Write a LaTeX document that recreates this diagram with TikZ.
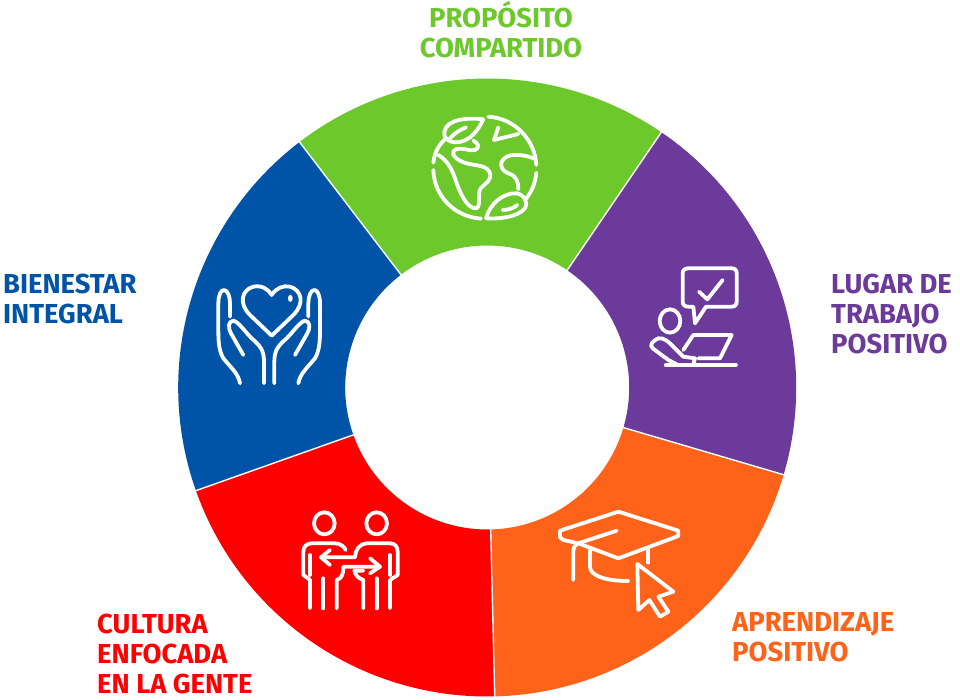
\documentclass[tikz,border=0pt]{standalone}
\usepackage{fontspec}
\setmainfont{Fira Sans}
\definecolor{cgreen}{HTML}{6DC92B}
\definecolor{cpurple}{HTML}{6B3A9A}
\definecolor{corange}{HTML}{FF6319}
\definecolor{cred}{HTML}{FF0000}
\definecolor{cblue}{HTML}{0054A8}
\tikzset{
  ico/.style={draw=white,line width=3.8pt,line cap=round,line join=round,fill=none},
  zoomed/.style={x=0.3333pt,y=-0.3333pt},
  lab/.style={inner sep=0pt,font=\fontsize{27.4}{30}\selectfont\bfseries}
}
\newcommand{\sect}[3]{\fill[#3] (#1:309) arc[start angle=#1,end angle=#2,radius=309] -- (#2:142) arc[start angle=#2,end angle=#1,radius=142] -- cycle;}
\begin{document}
\begin{tikzpicture}[x=1pt,y=-1pt]
\useasboundingbox (0,0) rectangle (960,700);
\fill[white] (0,0) rectangle (960,700);
\begin{scope}[shift={(487.2,387.5)},x=1pt,y=1pt]
\sect{55.7}{127.4}{cgreen}
\sect{127.4}{199.5}{cblue}
\sect{199.5}{271.4}{cred}
\sect{271.4}{343.6}{corange}
\sect{343.6}{415.7}{cpurple}
\foreach \a in {55.7,127.4,199.5,271.4,343.6}
  \draw[white,line width=1.4pt] (\a:141) -- (\a:310);
\end{scope}
% globe
\begin{scope}[shift={(410,100)},zoomed]
\draw[ico] (235,50) .. controls (315,55) and (375,120) .. (379,195);
\draw[ico] (379,218) .. controls (376,250) and (365,275) .. (347,298);
\draw[ico] (213,356) .. controls (130,350) and (72,285) .. (70,210);
\draw[ico] (70,188) .. controls (73,160) and (85,135) .. (105,118);
\draw[ico] (220,58) .. controls (170,52) and (110,58) .. (103,95) .. controls (100,115) and (115,127) .. (140,127) .. controls (180,125) and (205,90) .. (220,58);
\draw[ico] (115,122) .. controls (130,100) and (150,90) .. (168,82);
\draw[ico] (85,165) .. controls (110,180) and (125,205) .. (135,235) .. controls (150,280) and (170,325) .. (198,325) .. controls (215,320) and (200,285) .. (212,265) .. controls (225,250) and (250,240) .. (238,215) .. controls (225,190) and (180,200) .. (150,182) .. controls (130,172) and (120,155) .. (140,147) .. controls (160,142) and (180,155) .. (195,150) .. controls (208,145) and (208,130) .. (190,122);
\draw[ico] (265,82) -- (252,120) -- (325,102);
\draw[ico] (375,177) .. controls (350,165) and (310,160) .. (290,170) .. controls (265,185) and (270,210) .. (295,220) .. controls (320,228) and (325,245) .. (325,268);
\draw[ico] (228,355) .. controls (240,310) and (280,278) .. (320,280) .. controls (345,285) and (355,310) .. (345,325) .. controls (325,350) and (270,358) .. (228,355);
\draw[ico] (278,330) .. controls (295,330) and (310,325) .. (322,315);
\end{scope}
% laptop and bubble
\begin{scope}[shift={(630,250)},zoomed]
\draw[ico] (175,55) -- (305,55) .. controls (315,55) and (320,60) .. (320,70) -- (320,155) .. controls (320,165) and (315,170) .. (305,170) -- (228,170) -- (195,220) -- (190,170) -- (175,170) .. controls (165,170) and (158,165) .. (158,155) -- (158,70) .. controls (158,60) and (165,55) .. (175,55) -- cycle;
\draw[ico] (207,125) -- (232,148) -- (278,90);
\draw[ico] (120,213) ellipse[x radius=31,y radius=35];
\draw[ico] (140,343) -- (115,330) -- (68,295) .. controls (58,285) and (65,275) .. (85,265) .. controls (100,262) and (115,275) .. (125,285) -- (160,320) -- (195,325) -- (190,343);
\draw[ico] (160,300) -- (190,255) -- (305,255) -- (270,325) -- (205,325);
\draw[ico] (107,345) -- (318,345);
\end{scope}
% cap
\begin{scope}[shift={(540,500)},zoomed]
\draw[ico] (60,92) -- (235,35) -- (415,92) -- (415,108) -- (235,175) -- (115,130) -- (70,120) -- (60,112) -- cycle;
\draw[ico] (230,92) -- (115,130) .. controls (105,135) and (100,142) .. (100,155) -- (100,240);
\draw[ico] (150,150) -- (150,200) .. controls (150,225) and (190,243) .. (265,243);
\draw[ico] (325,150) -- (325,188);
\draw[ico] (292,192) -- (400,275) -- (355,290) -- (385,335) -- (360,350) -- (328,300) -- (295,330) -- cycle;
\end{scope}
% people
\begin{scope}[shift={(285,500)},zoomed]
\draw[ico] (118,70) ellipse[x radius=31,y radius=33];
\draw[ico] (275,70) ellipse[x radius=31,y radius=33];
\draw[ico] (75,325) -- (75,240) -- (55,225) -- (55,155) .. controls (55,140) and (65,130) .. (80,130) -- (150,130) .. controls (165,130) and (178,140) .. (182,150);
\draw[ico] (75,225) -- (75,165);
\draw[ico] (115,235) -- (115,325);
\draw[ico] (155,325) -- (155,240) .. controls (170,235) and (175,225) .. (175,200) -- (285,200);
\draw[ico] (255,175) -- (285,200) -- (255,220);
\draw[ico] (135,150) -- (108,172) -- (135,195);
\draw[ico] (108,172) -- (210,172) .. controls (210,150) and (225,130) .. (245,130) -- (315,130) .. controls (330,130) and (338,140) .. (338,155) -- (338,225) -- (315,240) -- (315,325);
\draw[ico] (315,225) -- (315,165);
\draw[ico] (275,235) -- (275,325);
\draw[ico] (235,325) -- (235,240) .. controls (220,235) and (210,225) .. (208,212) -- (235,212);
\end{scope}
% hands
\begin{scope}[shift={(205,275)},zoomed]
\draw[ico] (200,182) -- (135,120) .. controls (100,85) and (110,45) .. (145,35) .. controls (170,30) and (190,42) .. (200,60) .. controls (212,40) and (235,30) .. (255,35) .. controls (290,45) and (300,85) .. (265,120) -- cycle;
\draw[white,line width=2.6pt] (256,70) ellipse[x radius=3,y radius=6];
\foreach \s/\o in {1/0,-1/385}{
  \begin{scope}[shift={(\o,0)},xscale=\s]
  \draw[ico] (105,325) .. controls (100,295) and (75,275) .. (55,250) .. controls (40,225) and (40,190) .. (40,160) -- (40,85) .. controls (40,60) and (48,45) .. (57,45) .. controls (68,45) and (75,65) .. (75,85) -- (75,125);
  \draw[ico] (115,240) -- (78,175) .. controls (68,155) and (70,140) .. (85,137) .. controls (100,140) and (120,170) .. (140,190) .. controls (165,212) and (177,225) .. (177,260) -- (177,325);
  \end{scope}
}
\end{scope}
% labels
\node[lab,text=cgreen,align=center,anchor=center] (proposito) at (501,29.5) {PROPÓSITO\\COMPARTIDO};
\node[lab,text=cblue,align=left,anchor=west] (bienestar) at (3,299.5) {BIENESTAR\\INTEGRAL};
\node[lab,text=cpurple,align=left,anchor=west] (lugar) at (831,314.5) {LUGAR DE\\TRABAJO\\POSITIVO};
\node[lab,text=corange,align=left,anchor=west] (aprendizaje) at (732,637.5) {APRENDIZAJE\\POSITIVO};
\node[lab,text=cred,align=left,anchor=west] (cultura) at (97,653.5) {CULTURA\\ENFOCADA\\EN LA GENTE};
\end{tikzpicture}
\end{document}
